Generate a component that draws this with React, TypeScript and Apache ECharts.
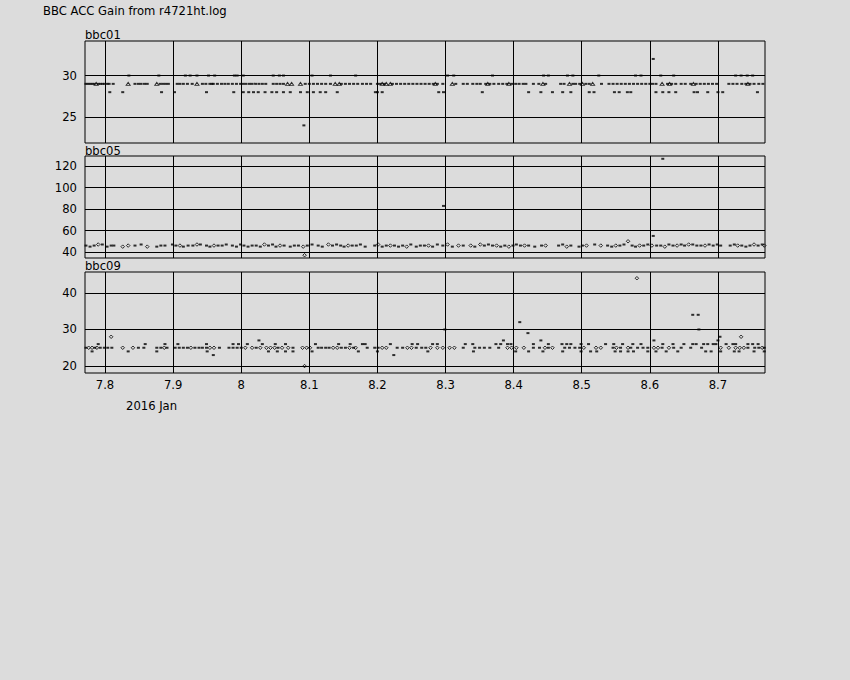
import React, { useEffect, useRef } from "react";
import * as echarts from "echarts";

const TITLE = "BBC ACC Gain from r4721ht.log";
const PANEL_NAMES = ["bbc01", "bbc05", "bbc09"];
const DATE_LABEL = "2016 Jan";
const X_TICKS = [7.8, 7.9, 8.0, 8.1, 8.2, 8.3, 8.4, 8.5, 8.6, 8.7];
const X_MIN = 7.7706;
const X_MAX = 8.7691;

const Y1_TICKS = [25, 30];
const Y1_RANGE = [21.88, 34.16];
const Y2_TICKS = [40, 60, 80, 100, 120];
const Y2_RANGE = [34.4, 129.6];
const Y3_TICKS = [20, 30, 40];
const Y3_RANGE = [18.1, 45.7];

// ---------- bbc01 (times grouped by gain level) ----------
const bbc01At29 = [7.772, 7.775, 7.778, 7.781, 7.784, 7.79, 7.793, 7.796, 7.799, 7.803, 7.806, 7.812, 7.844, 7.849, 7.853, 7.858, 7.862, 7.881, 7.885, 7.889, 7.893, 7.906, 7.91, 7.915, 7.921, 7.928, 7.943, 7.948, 7.954, 7.957, 7.959, 7.965, 7.971, 7.976, 7.981, 7.987, 7.993, 7.999, 8.003, 8.007, 8.012, 8.016, 8.021, 8.026, 8.031, 8.036, 8.047, 8.052, 8.057, 8.062, 8.094, 8.1, 8.106, 8.112, 8.118, 8.124, 8.131, 8.147, 8.153, 8.159, 8.165, 8.171, 8.178, 8.184, 8.19, 8.2, 8.204, 8.21, 8.222, 8.228, 8.234, 8.24, 8.246, 8.252, 8.258, 8.264, 8.27, 8.276, 8.282, 8.288, 8.296, 8.315, 8.326, 8.332, 8.34, 8.346, 8.351, 8.359, 8.365, 8.371, 8.378, 8.384, 8.39, 8.397, 8.403, 8.408, 8.414, 8.418, 8.429, 8.437, 8.447, 8.469, 8.474, 8.487, 8.491, 8.497, 8.506, 8.511, 8.529, 8.54, 8.546, 8.552, 8.558, 8.564, 8.57, 8.576, 8.582, 8.588, 8.594, 8.6, 8.604, 8.609, 8.626, 8.632, 8.638, 8.646, 8.652, 8.66, 8.668, 8.674, 8.68, 8.686, 8.692, 8.698, 8.716, 8.722, 8.728, 8.735, 8.741, 8.747, 8.753, 8.76, 8.766];
const bbc01OpenAt29 = [7.787, 7.834, 7.876, 7.935, 8.068, 8.074, 8.087, 8.138, 8.144, 8.207, 8.213, 8.219, 8.285, 8.31, 8.362, 8.393, 8.443, 8.482, 8.501, 8.516, 8.618, 8.629, 8.664, 8.744];
const bbc01At30 = [7.835, 7.879, 7.918, 7.925, 7.935, 7.952, 7.961, 7.99, 7.994, 8.003, 8.047, 8.056, 8.062, 8.104, 8.131, 8.168, 8.303, 8.312, 8.369, 8.444, 8.451, 8.479, 8.487, 8.525, 8.579, 8.587, 8.616, 8.635, 8.726, 8.734, 8.743, 8.751];
const bbc01At28 = [7.807, 7.826, 7.883, 7.902, 7.949, 7.989, 8.003, 8.011, 8.018, 8.025, 8.035, 8.045, 8.052, 8.062, 8.072, 8.087, 8.097, 8.106, 8.116, 8.124, 8.141, 8.197, 8.2, 8.207, 8.29, 8.297, 8.354, 8.422, 8.44, 8.457, 8.472, 8.484, 8.511, 8.518, 8.548, 8.555, 8.567, 8.572, 8.609, 8.619, 8.628, 8.638, 8.665, 8.67, 8.685, 8.7, 8.707, 8.758];
const bbc01Outliers = [[8.092, 24], [8.605, 32]];

// ---------- bbc05 ----------
const bbc05Filled = [
  [7.772, 46], [7.778, 45], [7.784, 46], [7.796, 47], [7.803, 45], [7.809, 46], [7.813, 46],
  [7.844, 46], [7.853, 47], [7.876, 45], [7.882, 46], [7.888, 46], [7.899, 47], [7.904, 46], [7.915, 45],
  [7.922, 46], [7.929, 46], [7.94, 47], [7.949, 46], [7.954, 45], [7.966, 46], [7.972, 46], [7.978, 47],
  [7.987, 46], [7.993, 45], [7.999, 47], [8.004, 46], [8.01, 45], [8.016, 46], [8.022, 46], [8.028, 45],
  [8.04, 46], [8.046, 47], [8.051, 45], [8.063, 46], [8.072, 45], [8.078, 46], [8.084, 46], [8.097, 46],
  [8.104, 47], [8.113, 46], [8.119, 45], [8.134, 46], [8.14, 47], [8.146, 46], [8.151, 45], [8.163, 46],
  [8.169, 46], [8.175, 47], [8.182, 45], [8.196, 46], [8.207, 45], [8.213, 46], [8.225, 46], [8.231, 45],
  [8.237, 46], [8.249, 47], [8.257, 45], [8.263, 46], [8.269, 46], [8.281, 45], [8.288, 47], [8.296, 46],
  [8.31, 45], [8.326, 46], [8.343, 45], [8.357, 46], [8.363, 47], [8.369, 46], [8.381, 45], [8.387, 46],
  [8.399, 46], [8.404, 47], [8.41, 46], [8.422, 46], [8.431, 45], [8.441, 46], [8.466, 46], [8.472, 47],
  [8.484, 46], [8.496, 45], [8.501, 46], [8.519, 47], [8.538, 46], [8.544, 45], [8.556, 46], [8.562, 47],
  [8.574, 46], [8.579, 45], [8.591, 46], [8.597, 47], [8.61, 46], [8.616, 46], [8.628, 47], [8.634, 46],
  [8.646, 47], [8.651, 46], [8.663, 47], [8.669, 46], [8.675, 46], [8.687, 47], [8.693, 46], [8.699, 47],
  [8.704, 46], [8.718, 46], [8.724, 47], [8.735, 46], [8.741, 45], [8.747, 46], [8.759, 46], [8.765, 47],
  [8.297, 83], [8.619, 127], [8.605, 55],
];
const bbc05Open = [
  [7.79, 47], [7.826, 45], [7.834, 46], [7.862, 45], [7.91, 46], [7.935, 47], [7.96, 46], [8.034, 47],
  [8.057, 46], [8.091, 45], [8.128, 47], [8.157, 46], [8.201, 47], [8.219, 46], [8.243, 45], [8.275, 46],
  [8.303, 47], [8.319, 46], [8.337, 46], [8.351, 47], [8.375, 46], [8.393, 45], [8.416, 46], [8.447, 46],
  [8.478, 45], [8.507, 46], [8.528, 46], [8.55, 46], [8.568, 50], [8.585, 46], [8.603, 46], [8.622, 45],
  [8.64, 46], [8.657, 47], [8.681, 46], [8.729, 46], [8.753, 47], [8.768, 46], [8.093, 37],
];

// ---------- bbc09 (times grouped by gain level) ----------
const bbc09At25 = [7.772, 7.785, 7.793, 7.799, 7.804, 7.81, 7.849, 7.857, 7.876, 7.882, 7.891, 7.903, 7.909, 7.915, 7.921, 7.932, 7.938, 7.943, 7.949, 7.968, 7.982, 7.988, 7.994, 8.0, 8.022, 8.054, 8.076, 8.113, 8.118, 8.124, 8.129, 8.147, 8.153, 8.165, 8.185, 8.196, 8.201, 8.229, 8.237, 8.257, 8.265, 8.271, 8.326, 8.343, 8.35, 8.357, 8.365, 8.378, 8.429, 8.438, 8.451, 8.475, 8.482, 8.49, 8.497, 8.546, 8.557, 8.572, 8.582, 8.59, 8.597, 8.618, 8.635, 8.646, 8.66, 8.676, 8.744, 8.754, 8.76, 8.768];
const bbc09OpenAt25 = [7.776, 7.781, 7.788, 7.826, 7.841, 7.887, 7.926, 7.954, 7.96, 8.006, 8.016, 8.028, 8.037, 8.043, 8.049, 8.06, 8.069, 8.09, 8.096, 8.101, 8.135, 8.141, 8.159, 8.168, 8.207, 8.213, 8.244, 8.25, 8.278, 8.288, 8.296, 8.306, 8.313, 8.391, 8.397, 8.404, 8.415, 8.446, 8.457, 8.503, 8.521, 8.528, 8.551, 8.568, 8.606, 8.612, 8.628, 8.704, 8.716, 8.726, 8.732, 8.738, 8.765];
const bbc09At26 = [7.79, 7.859, 7.888, 7.907, 7.949, 7.988, 7.996, 8.009, 8.031, 8.05, 8.065, 8.109, 8.143, 8.16, 8.178, 8.182, 8.219, 8.251, 8.259, 8.281, 8.288, 8.329, 8.34, 8.374, 8.381, 8.391, 8.396, 8.429, 8.451, 8.471, 8.478, 8.484, 8.499, 8.51, 8.535, 8.547, 8.56, 8.575, 8.587, 8.619, 8.634, 8.65, 8.663, 8.668, 8.679, 8.685, 8.693, 8.697, 8.712, 8.722, 8.726, 8.744, 8.751, 8.759];
const bbc09At24 = [7.781, 7.834, 7.876, 7.95, 8.04, 8.053, 8.065, 8.076, 8.104, 8.172, 8.2, 8.274, 8.341, 8.403, 8.422, 8.443, 8.472, 8.499, 8.513, 8.522, 8.549, 8.557, 8.568, 8.576, 8.597, 8.609, 8.624, 8.641, 8.682, 8.69, 8.704, 8.724, 8.731, 8.753, 8.768];
const bbc09Others = [[8.026, 27], [8.385, 27], [8.44, 27], [8.606, 27], [8.7, 27], [7.959, 23], [8.224, 23], [8.703, 28], [8.299, 30], [8.409, 32], [8.421, 29], [8.663, 34], [8.671, 34], [8.672, 30]];
const bbc09OpenOthers = [[7.809, 28], [8.734, 28], [8.093, 20], [8.581, 44]];

const BG = "#dcdcdc";
const FONT = "DejaVu Sans";
const FS = 11.6;

const at = (times: number[], v: number) => times.map((t) => [t, v]);

export default function App() {
  const ref = useRef<HTMLDivElement>(null);
  useEffect(() => {
    if (!ref.current) return;
    const chart = echarts.init(ref.current, undefined, { renderer: "svg" });
    const grids = [
      { left: 85, top: 41, width: 680, height: 102 },
      { left: 85, top: 156, width: 680, height: 102 },
      { left: 85, top: 272, width: 680, height: 101 },
    ];
    const yRanges = [Y1_RANGE, Y2_RANGE, Y3_RANGE];
    const yTicks = [Y1_TICKS, Y2_TICKS, Y3_TICKS];
    const filledStyle = { color: "#000" };
    const openStyle = { color: "transparent", borderColor: "#000", borderWidth: 1 };
    const mk = (i: number, data: number[][], open: boolean, sym: string) => ({
      type: "scatter",
      xAxisIndex: i,
      yAxisIndex: i,
      data,
      symbol: sym,
      symbolSize: open ? (sym === "triangle" ? [4, 3] : 3.5) : [3, 2],
      itemStyle: open ? openStyle : filledStyle,
      silent: true,
    });
    const option: any = {
      animation: false,
      backgroundColor: BG,
      grid: grids.map((g) => ({ ...g, show: true, borderColor: "#000", borderWidth: 1, backgroundColor: "transparent" })),
      xAxis: grids.map((_, i) => ({
        type: "value",
        gridIndex: i,
        min: X_MIN,
        max: X_MAX,
        axisLine: { show: false },
        axisTick: { show: false, customValues: X_TICKS },
        splitLine: { show: true, lineStyle: { color: "#000", width: 1 } },
        axisLabel: {
          show: i === 2,
          customValues: X_TICKS,
          margin: 6,
          color: "#000",
          fontFamily: FONT,
          fontSize: FS,
          formatter: (v: number) => String(Math.round(v * 10) / 10),
        },
      })),
      yAxis: grids.map((_, i) => ({
        type: "value",
        gridIndex: i,
        min: yRanges[i][0],
        max: yRanges[i][1],
        axisLine: { show: false },
        axisTick: { show: false, customValues: yTicks[i] },
        splitLine: { show: true, lineStyle: { color: "#000", width: 1 } },
        axisLabel: {
          customValues: yTicks[i],
          margin: 8,
          color: "#000",
          fontFamily: FONT,
          fontSize: FS,
        },
      })),
      series: [
        mk(0, at(bbc01At29, 29), false, "rect"),
        mk(0, at(bbc01At30, 30), false, "rect"),
        mk(0, at(bbc01At28, 28), false, "rect"),
        mk(0, bbc01Outliers, false, "rect"),
        mk(0, at(bbc01OpenAt29, 29), true, "triangle"),
        mk(1, bbc05Filled, false, "rect"),
        mk(1, bbc05Open, true, "diamond"),
        mk(2, at(bbc09At25, 25), false, "rect"),
        mk(2, at(bbc09At26, 26), false, "rect"),
        mk(2, at(bbc09At24, 24), false, "rect"),
        mk(2, bbc09Others, false, "rect"),
        mk(2, at(bbc09OpenAt25, 25), true, "diamond"),
        mk(2, bbc09OpenOthers, true, "diamond"),
      ],
      graphic: [
        { type: "text", x: 43, y: 11, style: { text: TITLE, fill: "#000", fontFamily: FONT, fontSize: FS, verticalAlign: "middle" } },
        { type: "text", x: 85, y: 35, style: { text: PANEL_NAMES[0], fill: "#000", fontFamily: FONT, fontSize: FS, verticalAlign: "middle" } },
        { type: "text", x: 85, y: 150.5, style: { text: PANEL_NAMES[1], fill: "#000", fontFamily: FONT, fontSize: FS, verticalAlign: "middle" } },
        { type: "text", x: 85, y: 265.5, style: { text: PANEL_NAMES[2], fill: "#000", fontFamily: FONT, fontSize: FS, verticalAlign: "middle" } },
        { type: "text", x: 126, y: 406, style: { text: DATE_LABEL, fill: "#000", fontFamily: FONT, fontSize: FS, verticalAlign: "middle" } },
      ],
    };
    chart.setOption(option);
    return () => chart.dispose();
  }, []);
  return (
    <div
      ref={ref}
      style={{ position: "fixed", left: 0, top: 0, width: 850, height: 680, background: BG }}
    />
  );
}
